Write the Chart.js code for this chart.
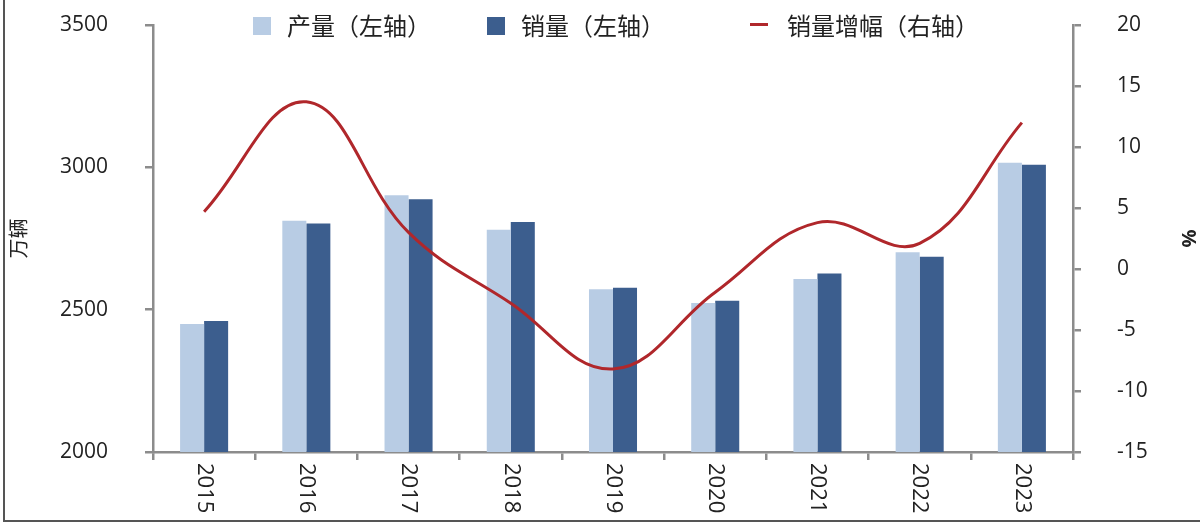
<!DOCTYPE html>
<html>
<head>
<meta charset="utf-8">
<script src="https://cdn.jsdelivr.net/npm/chart.js@4"></script>
<style>
  html, body { margin: 0; padding: 0; background: #fff; }
  #wrap { position: relative; width: 1200px; height: 526px; overflow: hidden; }
  #frame { position: absolute; left: 3px; top: -2px; width: 1200px; height: 524px;
           border-left: 2px solid #555; border-bottom: 2px solid #555; box-sizing: border-box; pointer-events: none; }
  .lg { position: absolute; top: 8px; font-family: "Noto Sans CJK SC", sans-serif; font-size: 24px; color: #222; line-height: 34px; white-space: nowrap; }
  .sw { position: absolute; }
</style>
</head>
<body>
<div id="wrap">
  <canvas id="chart" width="1200" height="526"></canvas>
  <div id="frame"></div>
  <div class="sw" style="left:253px;top:17px;width:18px;height:18px;background:#b8cce4"></div>
  <div class="lg" style="left:287px">产量（左轴）</div>
  <div class="sw" style="left:487px;top:17px;width:18px;height:18px;background:#3c5e8e"></div>
  <div class="lg" style="left:521px">销量（左轴）</div>
  <div class="sw" style="left:750px;top:23px;width:18px;height:3px;background:#b0272b"></div>
  <div class="lg" style="left:787px">销量增幅（右轴）</div>
</div>
<script>
// 数据
const years = ['2015', '2016', '2017', '2018', '2019', '2020', '2021', '2022', '2023'];
const production = [2450, 2812, 2902, 2781, 2572, 2523, 2608, 2702, 3016];
const sales = [2460, 2803, 2888, 2808, 2577, 2531, 2627, 2686, 3009];
const salesGrowth = [4.7, 13.7, 3.0, -2.8, -8.2, -1.9, 3.8, 2.1, 12.0];
const leftTicks = [2000, 2500, 3000, 3500];
const rightTicks = [-15, -10, -5, 0, 5, 10, 15, 20];

const axisGray = '#8c8c8c';
const numFont = { family: '"Open Sans", sans-serif', size: 21 };

// x轴标签竖排（顺时针旋转）
const xLabels = {
    id: 'xLabels',
    afterDraw(chart) {
        const ctx = chart.ctx;
        const xs = chart.scales.x;
        ctx.save();
        ctx.font = '22px "Open Sans", sans-serif';
        ctx.fillStyle = '#222';
        ctx.textAlign = 'left';
        ctx.textBaseline = 'middle';
        years.forEach((y, i) => {
            const px = xs.getPixelForValue(i);
            ctx.save();
            ctx.translate(px, xs.top + 11);
            ctx.rotate(Math.PI / 2);
            ctx.fillText(y, 0, 0);
            ctx.restore();
        });
        ctx.restore();
    }
};

new Chart(document.getElementById('chart'), {
    data: {
        labels: years,
        datasets: [
            {
                type: 'line',
                label: '销量增幅（右轴）',
                data: salesGrowth,
                yAxisID: 'y1',
                borderColor: '#b0272b',
                borderWidth: 3,
                pointRadius: 0,
                tension: 0.4,
                order: 0
            },
            {
                type: 'bar',
                label: '产量（左轴）',
                data: production,
                yAxisID: 'y',
                backgroundColor: '#b8cce4',
                categoryPercentage: 0.47,
                barPercentage: 1.0,
                order: 1
            },
            {
                type: 'bar',
                label: '销量（左轴）',
                data: sales,
                yAxisID: 'y',
                backgroundColor: '#3c5e8e',
                categoryPercentage: 0.47,
                barPercentage: 1.0,
                order: 1
            }
        ]
    },
    options: {
        responsive: false,
        animation: false,
        layout: { padding: { top: 25, left: 0, right: 0, bottom: 0 } },
        plugins: { legend: { display: false }, tooltip: { enabled: false } },
        scales: {
            x: {
                offset: true,
                grid: { offset: true, drawOnChartArea: false, color: axisGray, lineWidth: 2.5, tickLength: 8 },
                border: { color: axisGray, width: 2.5 },
                ticks: { display: false },
                afterFit(s) { s.height = 74; }
            },
            y: {
                position: 'left',
                min: 2000,
                max: 3500,
                afterBuildTicks(s) { s.ticks = leftTicks.map(v => ({ value: v })); },
                grid: { drawOnChartArea: false, color: axisGray, lineWidth: 2.5, tickLength: 8 },
                border: { color: axisGray, width: 2.5 },
                ticks: { color: '#222', font: numFont, padding: 37, callback: v => String(v) },
                title: { display: true, text: '万辆', color: '#222', font: { family: '"Noto Sans CJK SC", sans-serif', size: 20 }, padding: 6 },
                afterFit(s) { s.width = 153; s.paddingTop = 0; s.paddingBottom = 0; }
            },
            y1: {
                position: 'right',
                min: -15,
                max: 20,
                afterBuildTicks(s) { s.ticks = rightTicks.map(v => ({ value: v })); },
                grid: { drawOnChartArea: false, color: axisGray, lineWidth: 2.5, tickLength: 8 },
                border: { color: axisGray, width: 2.5 },
                ticks: { color: '#222', font: numFont, padding: 36, callback: v => String(v) },
                title: { display: true, text: '%', color: '#222', font: { family: '"Open Sans", sans-serif', size: 20, weight: 'bold' }, padding: 0 },
                afterFit(s) { s.width = 127; s.paddingTop = 0; s.paddingBottom = 0; }
            }
        }
    },
    plugins: [xLabels]
});
</script>
</body>
</html>
